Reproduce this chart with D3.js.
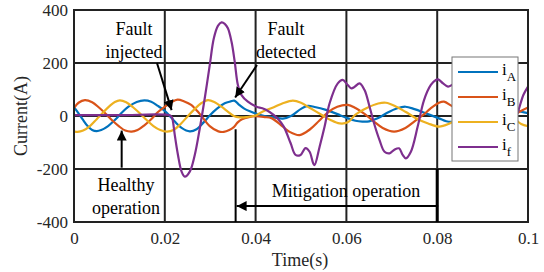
<!DOCTYPE html>
<html>
<head>
<meta charset="utf-8">
<script src="https://cdn.jsdelivr.net/npm/d3@7"></script>
<style>
  body { margin: 0; background: #fff; }
  text { font-family: "Liberation Serif", "Times New Roman", serif; }
</style>
</head>
<body>
<div id="chart"></div>
<script>
// values: [time (s), current (A)]
const iA = [[0,33],[0.001,10],[0.002,-15],[0.003,-38],[0.004,-53],[0.005,-57],[0.006,-53],[0.0075,-38],[0.009,-15],
  [0.0105,12],[0.012,35],[0.0138,53],[0.0155,59],[0.017,54],[0.0185,38],[0.0198,22],[0.021,2],[0.0222,-21],[0.0237,-45],
  [0.0255,-58],[0.027,-50],[0.0285,-25],[0.03,4],[0.0315,28],[0.0332,48],[0.0345,55],[0.0353,58],[0.0362,45],[0.0375,28],
  [0.039,16],[0.0402,8],[0.042,0],[0.044,-5],[0.046,-10],[0.048,2],[0.05,27],[0.0515,38],[0.053,34],[0.0555,23],[0.0585,4],
  [0.0602,-8],[0.062,-18],[0.0635,-21],[0.065,-20],[0.067,-8],[0.069,12],[0.0712,29],[0.073,35],[0.075,26],[0.0775,10],
  [0.0804,-9],[0.082,-20],[0.0835,-22],[0.086,-15],[0.088,-2],[0.09,18],[0.092,32],[0.094,36],[0.096,28],[0.0985,16],[0.1,11]];
const iB = [[0,30],[0.001,50],[0.0024,60],[0.004,52],[0.0055,32],[0.007,8],[0.0085,-18],[0.01,-40],[0.0113,-55],[0.0127,-59],
  [0.014,-53],[0.0155,-35],[0.017,-12],[0.0185,15],[0.02,35],[0.0213,50],[0.0228,62],[0.0243,55],[0.0258,42],[0.0277,8],
  [0.0299,-38],[0.0318,-58],[0.033,-60],[0.0342,-53],[0.0352,-42],[0.036,-25],[0.037,-12],[0.0385,-4],[0.04,-1],[0.042,-4],
  [0.0435,-8],[0.046,-40],[0.0475,-60],[0.0497,-72],[0.052,-50],[0.054,-18],[0.056,15],[0.058,35],[0.0603,42],[0.062,30],
  [0.064,8],[0.066,-20],[0.068,-45],[0.0705,-59],[0.073,-45],[0.075,-20],[0.077,5],[0.0785,28],[0.0804,50],[0.0815,54],
  [0.083,40],[0.085,18],[0.087,-10],[0.089,-40],[0.091,-57],[0.093,-45],[0.095,-20],[0.097,2],[0.098,15],[0.1,32]];
const iC = [[0,-58],[0.0008,-60],[0.002,-55],[0.0035,-38],[0.005,-12],[0.0065,15],[0.008,40],[0.009,53],[0.0101,59],
  [0.0115,52],[0.013,33],[0.0145,10],[0.016,-15],[0.0175,-38],[0.019,-53],[0.0205,-59],[0.022,-52],[0.0235,-30],[0.025,-2],
  [0.0265,25],[0.028,48],[0.0295,60],[0.031,52],[0.0325,35],[0.034,15],[0.0352,0],[0.0365,-5],[0.038,-4],[0.04,2],
  [0.0415,16],[0.044,33],[0.046,48],[0.0482,58],[0.05,50],[0.052,30],[0.0545,5],[0.0565,-15],[0.0585,-28],[0.0603,-24],
  [0.062,5],[0.0645,30],[0.067,47],[0.0687,50],[0.071,35],[0.073,16],[0.0755,-10],[0.078,-28],[0.0804,-40],[0.0825,-30],
  [0.085,-5],[0.087,20],[0.089,40],[0.091,48],[0.093,38],[0.095,15],[0.097,-10],[0.0985,-30],[0.1,-38]];
const iF = [[0,3],[0.01,3],[0.0212,2],[0.0216,-6],[0.0218,-21],[0.0222,-72],[0.0229,-147],[0.0237,-210],[0.0244,-229],
  [0.0255,-210],[0.0266,-147],[0.0277,-47],[0.0288,67],[0.0299,192],[0.0308,293],[0.0317,340],[0.0325,353],[0.0332,348],
  [0.0339,331],[0.0347,280],[0.0354,205],[0.0361,117],[0.0369,79],[0.0383,54],[0.0402,35],[0.0415,29],[0.043,16],
  [0.0449,-10],[0.0462,-40],[0.0477,-102],[0.0488,-147],[0.0499,-147],[0.051,-121],[0.0519,-135],[0.0527,-179],[0.053,-185],
  [0.0541,-116],[0.0552,-40],[0.0563,48],[0.0581,123],[0.0592,136],[0.0603,117],[0.0611,104],[0.0618,110],[0.0629,123],
  [0.064,98],[0.0651,35],[0.0662,-34],[0.0673,-91],[0.0684,-135],[0.0695,-141],[0.0705,-128],[0.0716,-122],[0.0724,-147],
  [0.0731,-160],[0.0742,-135],[0.0757,-40],[0.0771,60],[0.0786,117],[0.0797,136],[0.0802,138],[0.0813,123],[0.0824,111],
  [0.0838,120],[0.0848,100],[0.086,35],[0.0871,-34],[0.0882,-91],[0.0893,-135],[0.0904,-141],[0.0914,-128],[0.0925,-122],
  [0.0933,-147],[0.094,-160],[0.0951,-135],[0.0966,-40],[0.0978,16],[0.099,80],[0.1,111]];

const series = [
  {name: "A", data: iA, color: "#0072BD"},
  {name: "B", data: iB, color: "#D95319"},
  {name: "C", data: iC, color: "#EDB120"},
  {name: "f", data: iF, color: "#7E2F8E"}
];
const xTicks = [0, 0.02, 0.04, 0.06, 0.08, 0.1];
const yTicks = [-400, -200, 0, 200, 400];
const tDetect = 0.0356;
const tMitigEnd = 0.08;

const margin = {top: 10, right: 16, bottom: 50, left: 74},
  width = 544 - margin.left - margin.right,
  height = 272 - margin.top - margin.bottom;

const svg = d3.select("#chart")
  .append("svg")
  .attr("width", 544)
  .attr("height", 272);

const g = svg.append("g")
  .attr("transform", "translate(" + margin.left + "," + margin.top + ")");

const x = d3.scaleLinear().domain([0, 0.1]).range([0, width]);
const y = d3.scaleLinear().domain([-400, 400]).range([height, 0]);

svg.append("defs").append("clipPath").attr("id", "plot")
  .append("rect").attr("width", width).attr("height", height);
const mk = svg.select("defs").append("marker")
  .attr("id", "arrow").attr("viewBox", "0 0 10 10")
  .attr("refX", 10).attr("refY", 5)
  .attr("markerWidth", 5).attr("markerHeight", 5)
  .attr("markerUnits", "strokeWidth")
  .attr("orient", "auto");
mk.append("path").attr("d", "M0,0 L10,5 L0,10 z").attr("fill", "#000");

// grid
g.selectAll(".vg").data(xTicks.slice(1, -1)).enter().append("line")
  .attr("x1", d => x(d)).attr("x2", d => x(d))
  .attr("y1", 0).attr("y2", height)
  .attr("stroke", "#222").attr("stroke-width", 2);
g.selectAll(".hg").data(yTicks.slice(1, -1)).enter().append("line")
  .attr("x1", 0).attr("x2", width)
  .attr("y1", d => y(d)).attr("y2", d => y(d))
  .attr("stroke", "#222").attr("stroke-width", 2);

// axes labels (plain hyphen for negatives, like the original)
const xAxis = g.append("g").attr("transform", "translate(0," + height + ")")
  .call(d3.axisBottom(x).tickValues(xTicks).tickSize(0).tickPadding(10).tickFormat(d => String(d)));
const yAxis = g.append("g")
  .call(d3.axisLeft(y).tickValues(yTicks).tickSize(0).tickPadding(6).tickFormat(d => String(d)));
[xAxis, yAxis].forEach(a => {
  a.select(".domain").remove();
  a.selectAll("text").attr("font-size", 17).attr("fill", "#262626");
});

// curves
const line = d3.line()
  .x(d => x(d[0]))
  .y(d => y(d[1]))
  .curve(d3.curveCatmullRom.alpha(0.5));
g.append("g").attr("clip-path", "url(#plot)")
  .selectAll("path").data(series).enter().append("path")
  .attr("d", d => line(d.data))
  .attr("fill", "none")
  .attr("stroke", d => d.color)
  .attr("stroke-width", 2.2);

// frame
g.append("rect").attr("width", width).attr("height", height)
  .attr("fill", "none").attr("stroke", "#222").attr("stroke-width", 2);

// annotations
function note(lines, cx, cy) {
  const t = g.append("text").attr("text-anchor", "middle").attr("font-size", 18).attr("fill", "#000");
  lines.forEach((s, i) => t.append("tspan").attr("x", cx).attr("y", cy + i * 23).text(s));
}
function arrow(x1, y1, x2, y2) {
  g.append("line").attr("x1", x1).attr("y1", y1).attr("x2", x2).attr("y2", y2)
    .attr("stroke", "#000").attr("stroke-width", 2).attr("marker-end", "url(#arrow)");
}
note(["Fault", "injected"], 60, 25);
arrow(83, 53, x(0.0215), y(22));
note(["Fault", "detected"], 212, 25);
arrow(183, 55, x(0.0355), y(70));
g.append("line").attr("x1", x(tDetect)).attr("x2", x(tDetect))
  .attr("y1", y(-50)).attr("y2", height).attr("stroke", "#000").attr("stroke-width", 2);
arrow(x(0.0105), y(-195), x(0.0105), y(-55));
note(["Healthy", "operation"], 52, 181);
g.append("text").attr("x", 272).attr("y", 187).attr("text-anchor", "middle")
  .attr("font-size", 18).text("Mitigation operation");
arrow(x(tMitigEnd) + 1, y(-340), x(tDetect) + 1, y(-340));
g.append("line").attr("x1", x(tMitigEnd)).attr("x2", x(tMitigEnd))
  .attr("y1", y(-200)).attr("y2", height).attr("stroke", "#000").attr("stroke-width", 3);

// axis titles
svg.append("text").attr("x", 300).attr("y", 266).attr("text-anchor", "middle")
  .attr("font-size", 18).attr("fill", "#262626").text("Time(s)");
svg.append("text").attr("transform", "translate(27,116) rotate(-90)").attr("text-anchor", "middle")
  .attr("font-size", 18).attr("fill", "#262626").text("Current(A)");

// legend
const lg = svg.append("g").attr("transform", "translate(452,57)");
lg.append("rect").attr("width", 66).attr("height", 104)
  .attr("fill", "#fff").attr("stroke", "#777").attr("stroke-width", 1);
const row = lg.selectAll(".row").data(series).enter().append("g")
  .attr("transform", (d, i) => "translate(0," + (15 + i * 25) + ")");
row.append("line").attr("x1", 6).attr("x2", 46).attr("y1", 0).attr("y2", 0)
  .attr("stroke", d => d.color).attr("stroke-width", 2);
const lt = row.append("text").attr("x", 50).attr("y", 3).attr("font-size", 17);
lt.append("tspan").text("i");
lt.append("tspan").attr("dy", 6).attr("font-size", 13).text(d => d.name);
</script>
</body>
</html>
